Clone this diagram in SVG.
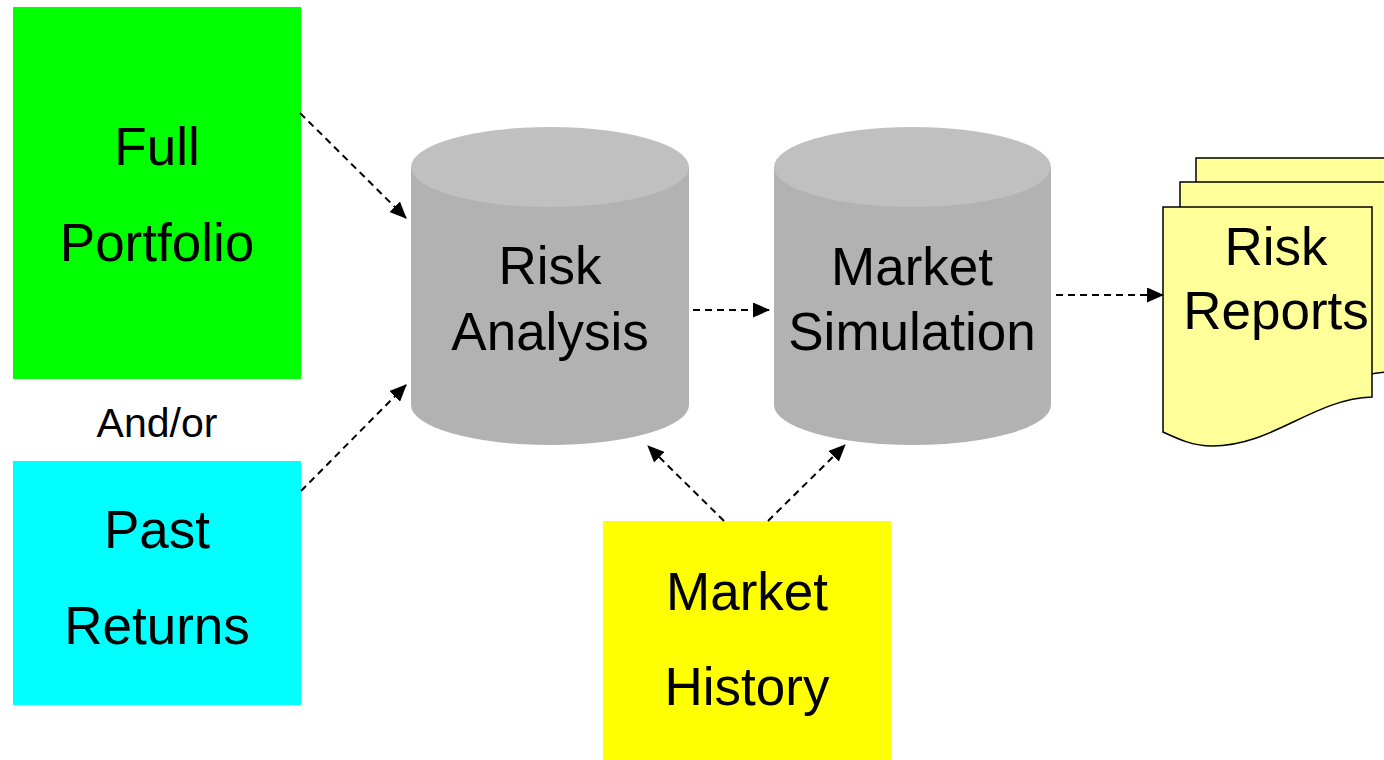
<svg xmlns="http://www.w3.org/2000/svg" width="1384" height="760" viewBox="0 0 1384 760">
  <style>
    text { font-family: "Liberation Sans", Arial, sans-serif; font-size: 53px; fill: #000; text-anchor: middle; }
    .small { font-size: 41px; }
    .cyl-body { fill: #B2B2B2; }
    .cyl-top { fill: #C0C0C0; }
    .page { fill: #FFFF99; stroke: #000; stroke-width: 1.5; }
    .link { fill: none; stroke: #000; stroke-width: 2; stroke-dasharray: 7 5; marker-end: url(#arrow); }
  </style>
  <defs>
    <marker id="arrow" markerUnits="userSpaceOnUse" markerWidth="17" markerHeight="15" refX="16" refY="7.5" orient="auto">
      <path d="M0,0 L17,7.5 L0,15 Z" fill="#000"/>
    </marker>
    <path id="doc" d="M0,0 H209 V190 C150,192 110,239 49,239 C30,239 15,232 0,225 Z"/>
  </defs>
  <rect width="1384" height="760" fill="#fff"/>

  <g id="full-portfolio">
    <rect x="13" y="7" width="288" height="372" fill="#00FF00"/>
    <text x="157" y="165">Full</text>
    <text x="157" y="261">Portfolio</text>
  </g>

  <g id="and-or">
    <text class="small" x="157" y="437">And/or</text>
  </g>

  <g id="past-returns">
    <rect x="13" y="461" width="288" height="244" fill="#00FFFF"/>
    <text x="157" y="548">Past</text>
    <text x="157" y="644">Returns</text>
  </g>

  <g id="risk-analysis">
    <path class="cyl-body" d="M411,167 V405 A139,40 0 0 0 689,405 V167 Z"/>
    <ellipse class="cyl-top" cx="550" cy="167" rx="139" ry="40"/>
    <text x="550" y="284">Risk</text>
    <text x="550" y="350">Analysis</text>
  </g>

  <g id="market-simulation">
    <path class="cyl-body" d="M774,167 V405 A138.5,40 0 0 0 1051,405 V167 Z"/>
    <ellipse class="cyl-top" cx="912.5" cy="167" rx="138.5" ry="40"/>
    <text x="912" y="285">Market</text>
    <text x="912" y="350">Simulation</text>
  </g>

  <g id="risk-reports">
    <use href="#doc" class="page" transform="translate(1196,158)"/>
    <use href="#doc" class="page" transform="translate(1180,182)"/>
    <use href="#doc" class="page" transform="translate(1163,207)"/>
    <text x="1276" y="265">Risk</text>
    <text x="1276" y="329">Reports</text>
  </g>

  <g id="market-history">
    <rect x="603" y="521" width="288" height="239" fill="#FFFF00"/>
    <text x="747" y="610">Market</text>
    <text x="747" y="705">History</text>
  </g>

  <g id="connectors">
    <line class="link" x1="300" y1="113" x2="406" y2="218"/>
    <line class="link" x1="301" y1="491" x2="406" y2="385"/>
    <line class="link" x1="693" y1="310" x2="769" y2="310"/>
    <line class="link" x1="1056" y1="295" x2="1163" y2="295"/>
    <line class="link" x1="724" y1="521" x2="648" y2="446"/>
    <line class="link" x1="768" y1="521" x2="845" y2="445"/>
  </g>
</svg>
